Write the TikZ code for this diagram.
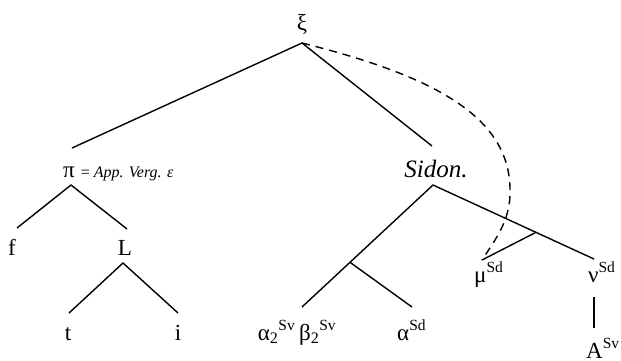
\documentclass[tikz,border=0pt]{standalone}
\usepackage{fontspec}
\setmainfont{Liberation Serif}
\begin{document}
\begin{tikzpicture}[x=1pt,y=-1pt,
  lbl/.style={inner sep=0pt,anchor=base,font=\fontsize{23}{27}\selectfont},
  lblw/.style={lbl,anchor=base west},
  branch/.style={line width=1.4pt},
  dashlink/.style={line width=1.4pt,dash pattern=on 8pt off 6pt}]
\useasboundingbox (0,0) rectangle (621,360);
\newcommand{\sps}[1]{\textsuperscript{\fontsize{15.5}{15}\selectfont #1}}
% labels
\node[lbl] (xi) at (302,30) {ξ};
\node[lblw] (pi) at (63,177) {π\hspace{6pt}{\fontsize{16}{16}\selectfont = \itshape App. Verg. ε}};
\node[lbl] (sid) at (436,177) {{\fontsize{25}{28}\selectfont\itshape Sidon.}};
\node[lbl] (f) at (12,255) {f};
\node[lbl] (L) at (125,255) {L};
\node[lbl] (t) at (68,340) {t};
\node[lbl] (i) at (178,340) {i};
\node[lbl] (ab) at (297,340) {α\textsubscript{2}\sps{Sv}\,β\textsubscript{2}\sps{Sv}};
\node[lblw] (asd) at (397,340) {α\sps{Sd}};
\node[lblw] (mu) at (474,282) {μ\sps{Sd}};
\node[lblw] (nu) at (588,282) {ν\sps{Sd}};
\node[lblw] (A) at (586,358) {A\sps{Sv}};
% junctions
\coordinate (xiB) at (302,43);
\coordinate (piT) at (72,148);
\coordinate (sidT) at (432,146);
\coordinate (piB) at (71,185);
\coordinate (fT) at (17,228);
\coordinate (LT) at (127,229);
\coordinate (LB) at (123,263);
\coordinate (tT) at (69,313);
\coordinate (iT) at (178,313);
\coordinate (sidB) at (433,185);
\coordinate (abT) at (302,307);
\coordinate (m1) at (350,262.3);
\coordinate (asdT) at (412,307);
\coordinate (m2) at (536,232.3);
\coordinate (nuT) at (594,259);
\coordinate (muT) at (482,260);
\coordinate (nuB) at (594,297);
\coordinate (AT) at (594,328);
\coordinate (bend) at (510,190);
% branches
\draw[branch] (piT) -- (xiB) -- (sidT);
\draw[branch] (fT) -- (piB) -- (LT);
\draw[branch] (tT) -- (LB) -- (iT);
\draw[branch] (abT) -- (sidB) -- (nuT);
\draw[branch] (m1) -- (asdT);
\draw[branch] (m2) -- (muT);
\draw[branch] (nuB) -- (AT);
% dashed link
\draw[dashlink] (xiB) .. controls (430,75) and (510,115) .. (bend)
  .. controls (511,220) and (495,240) .. (muT);
\end{tikzpicture}
\end{document}
